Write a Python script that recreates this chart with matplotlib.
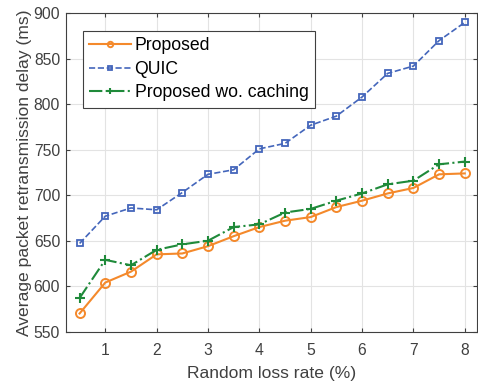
import matplotlib
matplotlib.use("Agg")
import matplotlib.pyplot as plt

plt.rcParams['font.family'] = ['Liberation Sans', 'DejaVu Sans']

loss_rate = [0.5, 1, 1.5, 2, 2.5, 3, 3.5, 4, 4.5, 5, 5.5, 6, 6.5, 7, 7.5, 8]
proposed = [570, 604, 616, 635, 636, 644, 655, 665, 672, 676, 687, 694, 702, 708, 723, 724]
quic = [647, 677, 686, 684, 703, 723, 728, 751, 757, 777, 787, 808, 834, 842, 870, 890]
no_cache = [587, 629, 623, 640, 646, 650, 665, 668, 681, 685, 694, 702, 712, 716, 734, 737]

fig = plt.figure(figsize=(4.78, 3.86), dpi=100)
ax = fig.add_axes([0.1375, 0.1407, 0.8595, 0.8248])

ax.plot(loss_rate, proposed, '-o', color='#F4892B', lw=1.5, ms=6.5,
        mfc='none', mew=1.4, label='Proposed')
ax.plot(loss_rate, quic, '--s', color='#4466BB', lw=1.2, ms=4.5,
        mfc='none', mew=1.3, label='QUIC')
ax.plot(loss_rate, no_cache, '-.+', color='#1F8A3A', lw=1.5, ms=7,
        mew=1.5, label='Proposed wo. caching')

ax.set_xlim(0.23, 8.23)
ax.set_ylim(550, 900)
ax.set_xticks(range(1, 9))
ax.set_yticks(range(550, 901, 50))
ax.grid(True, color='#E3E3E3', lw=0.8)
ax.set_axisbelow(True)
ax.tick_params(direction='in', colors='#404040', labelsize=11.3, length=3,
               top=True, right=True, labeltop=False, labelright=False)
ax.tick_params(axis='x', pad=8)
ax.tick_params(axis='y', pad=4)
for s in ax.spines.values():
    s.set_color('#404040')
    s.set_linewidth(0.8)

ax.set_xlabel('Random loss rate (%)', fontsize=12.6, color='#404040', labelpad=6)
ax.set_ylabel('Average packet retransmission delay (ms)', fontsize=12.6,
              color='#404040', labelpad=1)

leg = ax.legend(loc='upper left', bbox_to_anchor=(0.041, 0.945), fontsize=12.7,
                fancybox=False, edgecolor='#404040', framealpha=1,
                handlelength=2.4, handletextpad=0.2, borderpad=0.35,
                labelspacing=0.38, borderaxespad=0, markerscale=0.6)
leg.get_frame().set_linewidth(0.8)

fig.savefig('out.png', dpi=100)
